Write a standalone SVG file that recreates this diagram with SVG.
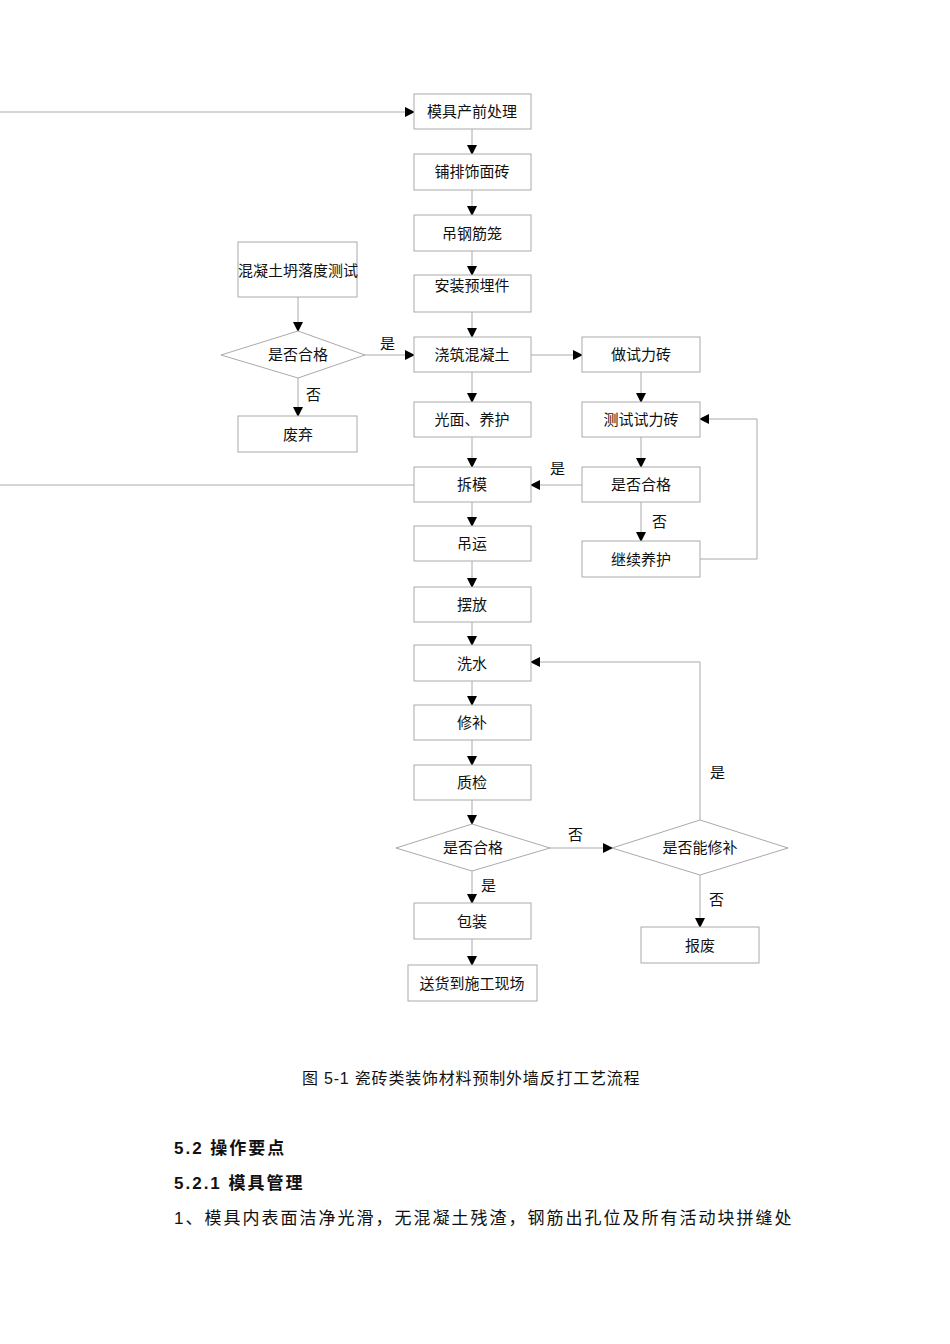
<svg xmlns="http://www.w3.org/2000/svg" width="950" height="1344" viewBox="0 0 950 1344">
<style>
.b{fill:#fff;stroke:#aaa;stroke-width:1}
.t{font-family:"Liberation Serif","Noto Sans CJK SC",serif;font-size:15px;fill:#111;text-anchor:middle}
.l{font-family:"Liberation Serif","Noto Sans CJK SC",serif;font-size:15px;fill:#111}
.c{fill:none;stroke:#aaa;stroke-width:1}
.h{font-family:"Liberation Sans","Noto Sans CJK SC",sans-serif;fill:#111}
</style>
<defs><marker id="a" markerWidth="10" markerHeight="10" refX="9" refY="5" orient="auto" markerUnits="userSpaceOnUse"><path d="M0,0 L10,5 L0,10 z" fill="#000"/></marker></defs>
<rect width="950" height="1344" fill="#fff"/>
<g id="connectors">
<path class="c" d="M0,112 H414" marker-end="url(#a)"/>
<path class="c" d="M0,485 H414"/>
<path class="c" d="M472,129 V154" marker-end="url(#a)"/>
<path class="c" d="M472,190 V215" marker-end="url(#a)"/>
<path class="c" d="M472,251 V275" marker-end="url(#a)"/>
<path class="c" d="M472,312 V337" marker-end="url(#a)"/>
<path class="c" d="M472,372 V402" marker-end="url(#a)"/>
<path class="c" d="M472,437 V467" marker-end="url(#a)"/>
<path class="c" d="M472,502 V526" marker-end="url(#a)"/>
<path class="c" d="M472,561 V587" marker-end="url(#a)"/>
<path class="c" d="M472,622 V645" marker-end="url(#a)"/>
<path class="c" d="M472,681 V705" marker-end="url(#a)"/>
<path class="c" d="M472,740 V765" marker-end="url(#a)"/>
<path class="c" d="M472,800 V824" marker-end="url(#a)"/>
<path class="c" d="M472,871 V903" marker-end="url(#a)"/>
<path class="c" d="M472,939 V965" marker-end="url(#a)"/>
<path class="c" d="M298,297 V331" marker-end="url(#a)"/>
<path class="c" d="M298,378 V416" marker-end="url(#a)"/>
<path class="c" d="M365,355 H414" marker-end="url(#a)"/>
<path class="c" d="M531,355 H582" marker-end="url(#a)"/>
<path class="c" d="M641,372 V402" marker-end="url(#a)"/>
<path class="c" d="M641,437 V467" marker-end="url(#a)"/>
<path class="c" d="M641,502 V541" marker-end="url(#a)"/>
<path class="c" d="M582,485 H531" marker-end="url(#a)"/>
<path class="c" d="M700,559 H757 V419 H700" marker-end="url(#a)"/>
<path class="c" d="M550,848 H612" marker-end="url(#a)"/>
<path class="c" d="M700,820 V662 H531" marker-end="url(#a)"/>
<path class="c" d="M700,875 V927" marker-end="url(#a)"/>
</g>
<g id="n1"><rect class="b" x="414" y="94" width="117" height="35"/><text class="t" x="472" y="117">模具产前处理</text></g>
<g id="n2"><rect class="b" x="414" y="154" width="117" height="36"/><text class="t" x="472" y="177">铺排饰面砖</text></g>
<g id="n3"><rect class="b" x="414" y="215" width="117" height="36"/><text class="t" x="472" y="239">吊钢筋笼</text></g>
<g id="n4"><rect class="b" x="414" y="275" width="117" height="37"/><text class="t" x="472" y="291">安装预埋件</text></g>
<g id="n5"><rect class="b" x="414" y="337" width="117" height="35"/><text class="t" x="472" y="360">浇筑混凝土</text></g>
<g id="n6"><rect class="b" x="414" y="402" width="117" height="35"/><text class="t" x="472" y="425">光面、养护</text></g>
<g id="n7"><rect class="b" x="414" y="467" width="117" height="35"/><text class="t" x="472" y="490">拆模</text></g>
<g id="n8"><rect class="b" x="414" y="526" width="117" height="35"/><text class="t" x="472" y="549">吊运</text></g>
<g id="n9"><rect class="b" x="414" y="587" width="117" height="35"/><text class="t" x="472" y="610">摆放</text></g>
<g id="n10"><rect class="b" x="414" y="645" width="117" height="36"/><text class="t" x="472" y="669">洗水</text></g>
<g id="n11"><rect class="b" x="414" y="705" width="117" height="35"/><text class="t" x="472" y="728">修补</text></g>
<g id="n12"><rect class="b" x="414" y="765" width="117" height="35"/><text class="t" x="472" y="788">质检</text></g>
<g id="n13"><polygon class="b" points="396,848 472,824 550,848 472,871"/><text class="t" x="473" y="853">是否合格</text></g>
<g id="n14"><rect class="b" x="414" y="903" width="117" height="36"/><text class="t" x="472" y="927">包装</text></g>
<g id="n15"><rect class="b" x="408" y="965" width="129" height="36"/><text class="t" x="472" y="989">送货到施工现场</text></g>
<g id="n16"><rect class="b" x="238" y="242" width="119" height="55"/><text class="t" x="298" y="276">混凝土坍落度测试</text></g>
<g id="n17"><polygon class="b" points="221,355 298,331 365,355 298,378"/><text class="t" x="298" y="360">是否合格</text></g>
<g id="n18"><rect class="b" x="238" y="416" width="119" height="36"/><text class="t" x="298" y="440">废弃</text></g>
<g id="n19"><rect class="b" x="582" y="337" width="118" height="35"/><text class="t" x="641" y="360">做试力砖</text></g>
<g id="n20"><rect class="b" x="582" y="402" width="118" height="35"/><text class="t" x="641" y="425">测试试力砖</text></g>
<g id="n21"><rect class="b" x="582" y="467" width="118" height="35"/><text class="t" x="641" y="490">是否合格</text></g>
<g id="n22"><rect class="b" x="582" y="541" width="118" height="36"/><text class="t" x="641" y="565">继续养护</text></g>
<g id="n23"><polygon class="b" points="612,848 700,820 788,848 700,875"/><text class="t" x="700" y="853">是否能修补</text></g>
<g id="n24"><rect class="b" x="641" y="927" width="118" height="36"/><text class="t" x="700" y="951">报废</text></g>
<g id="labels">
<text class="l" x="380" y="349">是</text>
<text class="l" x="306" y="400">否</text>
<text class="l" x="550" y="474">是</text>
<text class="l" x="652" y="527">否</text>
<text class="l" x="568" y="840">否</text>
<text class="l" x="481" y="891">是</text>
<text class="l" x="710" y="778">是</text>
<text class="l" x="709" y="905">否</text>
</g>
<text class="h" x="302" y="1084" font-size="16" letter-spacing="0.8">图 5-1  瓷砖类装饰材料预制外墙反打工艺流程</text>
<text class="h" x="174" y="1154" font-size="17" font-weight="bold" letter-spacing="2">5.2 操作要点</text>
<text class="h" x="174" y="1189" font-size="17" font-weight="bold" letter-spacing="2">5.2.1 模具管理</text>
<text class="h" x="174" y="1224" font-size="17" letter-spacing="2">1、模具内表面洁净光滑，无混凝土残渣，钢筋出孔位及所有活动块拼缝处</text>
</svg>
